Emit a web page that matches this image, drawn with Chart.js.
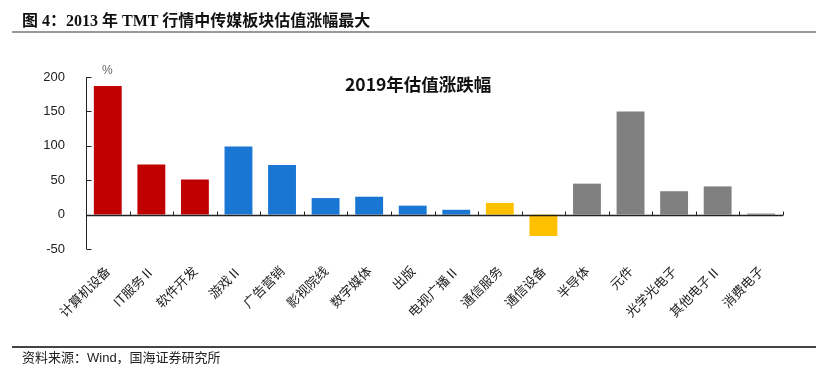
<!DOCTYPE html>
<html>
<head>
<meta charset="utf-8">
<script src="https://cdn.jsdelivr.net/npm/chart.js@4.4.0/dist/chart.umd.min.js"></script>
<style>
body{margin:0;background:#fff;}
#wrap{position:relative;width:816px;height:379px;overflow:hidden;}
#grafico{position:absolute;left:0;top:0;}
.txt{position:absolute;white-space:nowrap;}
#head{left:22px;top:7px;font:bold 16px "Liberation Serif","Noto Sans CJK SC";color:#111;}
#lineTop{position:absolute;left:12px;top:31px;width:804px;height:2px;background:#999;}
#lineBot{position:absolute;left:12px;top:346px;width:804px;height:1.5px;background:#444;}
#fonte{left:22px;top:347px;font:13px "Liberation Sans","Noto Sans CJK SC";color:#222;}
#titulo{left:345px;top:71px;font:bold 17.5px "Noto Sans CJK SC";color:#111;}
#pct{left:102px;top:63px;font:12px "Liberation Sans";color:#666;}
</style>
</head>
<body>
<div id="wrap">
<canvas id="grafico" width="816" height="379"></canvas>
<div class="txt" id="head">图 4：2013 年 TMT 行情中传媒板块估值涨幅最大</div>
<div id="lineTop"></div>
<div class="txt" id="titulo">2019年估值涨跌幅</div>
<div class="txt" id="pct">%</div>
<div id="lineBot"></div>
<div class="txt" id="fonte">资料来源：Wind，国海证券研究所</div>
</div>
<script>

/* DADOS */

const categorias=["计算机设备","IT服务Ⅱ","软件开发","游戏Ⅱ","广告营销","影视院线","数字媒体","出版","电视广播Ⅱ","通信服务","通信设备","半导体","元件","光学光电子","其他电子Ⅱ","消费电子"]

const valores=[187,73,51,99,72,24,26,13,7,17,-31,45,150,34,41,1.5]

const setores=["计算机","计算机","计算机","传媒","传媒","传媒","传媒","传媒","传媒","通信","通信","电子","电子","电子","电子","电子"]

const yTicks=[-50,0,50,100,150,200]

/* CORES */

const corSetor={"计算机":"#C00000","传媒":"#1976D2","通信":"#FFC000","电子":"#808080"}

/* EIXOS: linha do zero e ticks para dentro */

const eixos={
id:"eixos",
afterDatasetsDraw(chart){
const c=chart.ctx
const a=chart.chartArea
const x=chart.scales.x
const y=chart.scales.y
const y0=Math.round(y.getPixelForValue(0))+0.5
const xl=Math.round(a.left)+0.5
c.save()
c.strokeStyle="#222"
c.lineWidth=1
c.beginPath()
c.moveTo(xl,a.top)
c.lineTo(xl,a.bottom)
yTicks.forEach(v=>{
const py=Math.round(y.getPixelForValue(v))+0.5
c.moveTo(xl,py)
c.lineTo(xl+5,py)
})
c.stroke()
c.lineWidth=1.5
c.beginPath()
c.moveTo(xl,y0)
c.lineTo(a.right,y0)
c.stroke()
c.lineWidth=1
c.beginPath()
for(let i=1;i<=categorias.length;i++){
let px
if(i<categorias.length) px=(x.getPixelForValue(i-1)+x.getPixelForValue(i))/2
else px=a.right
px=Math.round(px)+0.5
c.moveTo(px,y0)
c.lineTo(px,y0-4)
}
c.stroke()
c.restore()
}
}

/* GRÁFICO */

const ctx=document.getElementById("grafico")

new Chart(ctx,{

type:"bar",

data:{
labels:categorias,
datasets:[{
data:valores,
backgroundColor:setores.map(s=>corSetor[s]),
barPercentage:0.64,
categoryPercentage:1
}]
},

options:{
responsive:false,
animation:false,
layout:{padding:{top:77,right:33,left:0,bottom:0}},
plugins:{
legend:{display:false},
tooltip:{enabled:false}
},
scales:{
x:{
grid:{display:false},
border:{display:false},
ticks:{
color:"#222",
font:{family:"Noto Sans CJK SC",size:13},
minRotation:45,
maxRotation:45,
autoSkip:false,
padding:6
},
afterFit(s){s.height=130}
},
y:{
min:-50,
max:200,
grid:{display:false},
border:{display:false},
afterBuildTicks(s){s.ticks=yTicks.map(v=>({value:v}))},
ticks:{
color:"#222",
font:{family:"Liberation Sans",size:13},
padding:13
},
afterFit(s){s.width=86}
}
}
},

plugins:[eixos]

})

</script>
</body>
</html>
